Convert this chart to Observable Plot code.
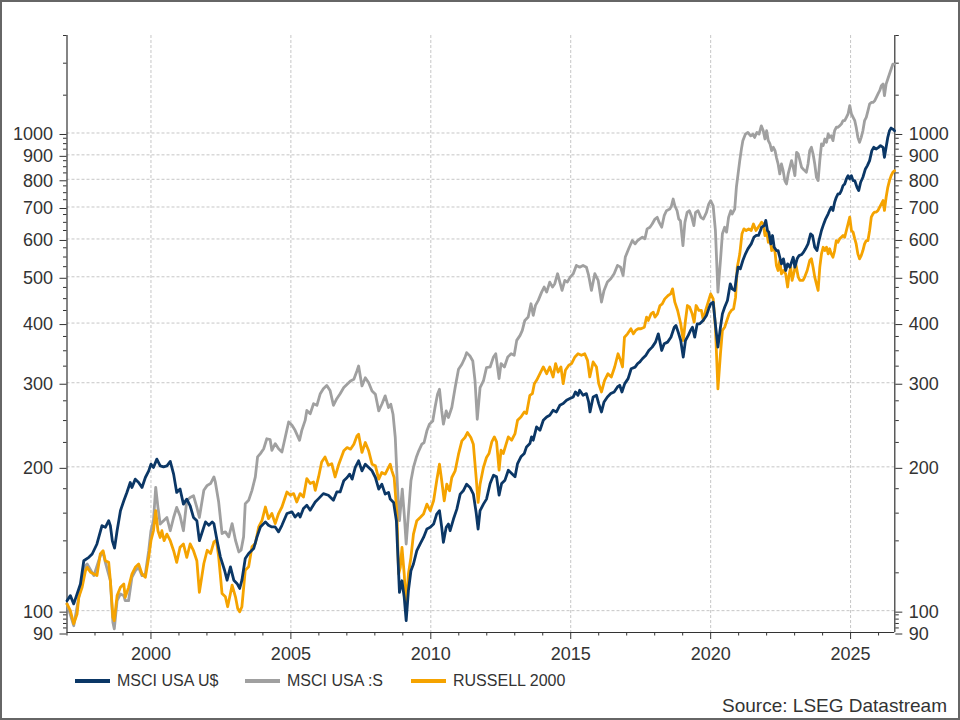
<!DOCTYPE html>
<html>
<head>
<meta charset="utf-8">
<script src="https://cdn.jsdelivr.net/npm/d3@7"></script>
<script src="https://cdn.jsdelivr.net/npm/@observablehq/plot@0.6"></script>
<style>
  html, body { margin: 0; padding: 0; background: #fff; }
  #page { position: relative; width: 960px; height: 720px; overflow: hidden; background: #fff;
          font-family: "Liberation Sans", Arial, sans-serif; color: #333; }
  #chart { position: absolute; left: 0; top: 0; }
  #frame { position: absolute; left: 0; top: 0; width: 960px; height: 720px; box-sizing: border-box;
           border: 2px solid #666; pointer-events: none; }
  .item { position: absolute; top: 670px; height: 22px; display: flex; align-items: center; font-size: 16px; color: #333; white-space: nowrap; }
  .sw { width: 35px; height: 3.5px; margin-right: 7px; }
  #source { position: absolute; right: 13px; top: 695px; font-size: 19px; color: #333; }
</style>
</head>
<body>
<div id="page">
  <div id="chart"></div>
  <div class="item" style="left:75px"><span class="sw" style="background:#0b3766"></span>MSCI USA U$</div>
  <div class="item" style="left:245px"><span class="sw" style="background:#a0a0a0"></span>MSCI USA :S</div>
  <div class="item" style="left:411px"><span class="sw" style="background:#f5a300"></span>RUSSELL 2000</div>
  <div id="source">Source: LSEG Datastream</div>
  <div id="frame"></div>
</div>
<script>
// ---- Data: [decimal year, index value] ----
const msciUsaUsd = [
[1997.00,104.9],[1997.12,107.5],[1997.24,103.3],[1997.36,108.4],[1997.48,113.7],[1997.60,127.2],[1997.78,129.3],[1997.90,131.4],
[1998.07,137.9],[1998.25,150.6],[1998.37,149.4],[1998.49,154.3],[1998.55,150.6],[1998.62,140.0],[1998.70,135.2],[1998.79,147.0],[1998.91,161.9],
[1999.03,169.8],[1999.14,176.8],[1999.26,185.5],[1999.32,181.1],[1999.44,188.5],[1999.56,185.5],[1999.68,181.1],[1999.80,190.0],[1999.92,196.2],
[2000.00,202.6],[2000.09,199.4],[2000.21,207.6],[2000.33,201.0],[2000.45,200.0],[2000.57,201.0],[2000.69,205.3],[2000.81,193.1],[2000.92,176.8],
[2001.04,179.7],[2001.16,167.1],[2001.28,171.2],[2001.40,165.8],[2001.52,156.7],[2001.64,154.3],[2001.73,140.1],[2001.95,153.4],
[2002.07,150.9],[2002.19,153.4],[2002.25,152.1],[2002.36,140.4],[2002.48,129.6],[2002.63,121.5],[2002.72,115.8],[2002.84,123.5],[2002.96,115.8],
[2003.08,113.9],[2003.17,111.3],[2003.25,115.8],[2003.37,128.6],[2003.49,131.7],[2003.67,134.9],[2003.79,142.7],[2003.91,149.7],
[2004.09,153.4],[2004.20,150.9],[2004.32,149.7],[2004.44,149.7],[2004.56,146.2],[2004.68,150.9],[2004.86,159.7],
[2005.04,161.0],[2005.15,157.1],[2005.27,159.7],[2005.33,157.1],[2005.45,163.6],[2005.57,166.2],[2005.69,162.3],[2005.87,168.8],[2005.99,171.6],
[2006.16,175.8],[2006.34,174.4],[2006.52,170.2],[2006.64,177.2],[2006.76,177.2],[2006.89,187.0],
[2007.01,190.0],[2007.10,193.1],[2007.19,188.5],[2007.30,199.4],[2007.42,205.9],[2007.54,196.2],[2007.66,202.6],[2007.78,199.4],[2007.90,196.2],
[2008.02,190.0],[2008.14,179.7],[2008.25,184.0],[2008.37,175.4],[2008.49,176.8],[2008.55,171.2],[2008.67,168.5],[2008.77,154.3],[2008.81,135.7],[2008.88,109.2],[2008.97,115.5],
[2009.05,106.6],[2009.12,95.3],[2009.20,110.1],[2009.29,121.2],[2009.38,125.2],[2009.50,133.5],[2009.62,137.9],[2009.74,142.3],[2009.86,148.2],[2009.98,149.4],
[2010.10,151.8],[2010.21,159.3],[2010.31,161.9],[2010.39,149.4],[2010.45,139.0],[2010.55,149.4],[2010.63,151.8],[2010.69,147.0],[2010.81,155.5],[2010.93,163.1],
[2011.05,175.4],[2011.16,178.2],[2011.28,184.0],[2011.40,181.1],[2011.52,175.4],[2011.62,160.5],[2011.69,148.2],[2011.76,161.9],[2011.88,167.1],[2011.99,171.2],
[2012.12,184.6],[2012.24,192.1],[2012.35,190.6],[2012.44,174.5],[2012.53,184.6],[2012.65,187.6],[2012.77,196.8],[2012.89,193.7],
[2013.01,190.6],[2013.10,203.2],[2013.22,209.9],[2013.34,213.3],[2013.42,220.2],[2013.54,223.8],[2013.60,231.1],[2013.66,227.4],[2013.78,242.5],[2013.90,238.6],
[2014.02,250.4],[2014.14,254.4],[2014.25,256.5],[2014.37,262.7],[2014.49,260.6],[2014.61,269.1],[2014.73,271.3],[2014.85,275.7],[2014.97,278.0],
[2015.09,280.2],[2015.17,287.0],[2015.26,282.4],[2015.32,289.3],[2015.44,282.4],[2015.56,284.7],[2015.64,273.5],[2015.69,260.6],[2015.80,280.2],[2015.92,282.4],
[2016.00,271.3],[2016.10,260.6],[2016.19,273.5],[2016.31,280.2],[2016.43,284.7],[2016.55,287.0],[2016.67,294.0],[2016.75,296.4],[2016.83,287.0],[2016.93,298.7],
[2017.05,306.0],[2017.16,321.0],[2017.30,323.4],[2017.39,328.9],[2017.47,331.6],[2017.56,336.8],[2017.68,342.2],[2017.79,350.5],[2017.91,356.2],
[2018.03,364.9],[2018.13,379.8],[2018.19,364.9],[2018.25,350.5],[2018.34,362.0],[2018.46,364.9],[2018.58,373.7],[2018.70,392.1],[2018.76,395.3],[2018.84,382.9],[2018.93,367.8],
[2019.02,339.4],[2019.10,367.8],[2019.20,376.9],[2019.28,386.0],[2019.35,392.1],[2019.43,373.7],[2019.52,398.6],[2019.61,398.6],[2019.73,405.0],[2019.85,414.9],[2019.93,428.4],
[2020.00,438.8],[2020.09,442.4],[2020.18,392.1],[2020.26,356.2],[2020.35,392.1],[2020.42,418.2],[2020.50,431.8],[2020.60,446.0],[2020.66,468.1],[2020.70,483.2],[2020.77,471.7],[2020.86,468.1],[2020.92,498.8],[2020.98,523.6],
[2021.06,519.4],[2021.15,540.8],[2021.24,557.8],[2021.33,572.0],[2021.45,586.0],[2021.55,605.5],[2021.63,610.4],[2021.71,610.4],[2021.78,624.9],[2021.82,635.0],[2021.92,640.5],[2021.97,656.0],
[2022.03,624.9],[2022.08,619.9],[2022.15,585.9],[2022.21,610.0],[2022.27,576.5],[2022.35,567.4],[2022.41,567.4],[2022.47,549.4],[2022.53,532.1],[2022.60,545.2],[2022.68,515.4],[2022.75,532.1],[2022.83,523.7],[2022.89,536.4],[2022.95,549.4],
[2023.01,523.7],[2023.09,545.2],[2023.16,553.8],[2023.25,556.6],[2023.32,563.1],[2023.39,572.2],[2023.48,585.9],[2023.57,614.9],[2023.64,610.0],[2023.72,576.5],[2023.80,567.4],[2023.87,595.3],[2023.96,624.9],
[2024.04,645.2],[2024.11,661.2],[2024.20,677.5],[2024.25,688.4],[2024.31,699.5],[2024.37,688.4],[2024.43,716.3],[2024.49,733.5],[2024.55,745.4],[2024.61,745.4],[2024.67,757.5],[2024.73,775.9],[2024.79,782.3],[2024.85,801.2],[2024.91,814.2],[2024.97,801.2],
[2025.03,814.2],[2025.09,794.9],[2025.15,794.9],[2025.23,769.7],[2025.29,757.5],[2025.36,788.5],[2025.44,807.8],[2025.53,840.8],[2025.60,854.6],[2025.68,875.2],[2025.76,918.6],[2025.83,933.3],[2025.92,925.9],
[2026.00,933.3],[2026.07,940.9],[2026.16,933.3],[2026.21,889.5],[2026.27,933.3],[2026.33,979.3],[2026.39,1011],[2026.45,1024],[2026.51,1019],[2026.57,1011]
];

const msciUsaSmall = [
[1997.00,103.3],[1997.24,93.0],[1997.42,106.6],[1997.66,124.2],[1997.72,125.2],[1997.96,118.4],
[1998.19,130.3],[1998.29,132.4],[1998.37,126.2],[1998.55,115.5],[1998.64,94.5],[1998.69,91.6],[1998.79,104.9],[1998.91,108.4],
[1999.03,107.5],[1999.08,104.9],[1999.20,104.9],[1999.32,117.4],[1999.44,121.2],[1999.56,123.2],[1999.68,118.4],[1999.80,119.3],[1999.92,133.5],
[2000.00,147.0],[2000.09,154.3],[2000.17,181.1],[2000.25,164.5],[2000.33,151.8],[2000.45,154.3],[2000.57,156.7],[2000.69,147.0],[2000.81,156.7],[2000.92,164.5],
[2001.04,157.9],[2001.16,147.0],[2001.28,169.8],[2001.40,172.6],[2001.52,174.0],[2001.64,164.5],[2001.73,156.7],[2001.89,178.6],
[2002.01,182.9],[2002.13,184.5],[2002.25,190.5],[2002.30,186.0],[2002.42,168.8],[2002.54,145.0],[2002.66,146.2],[2002.78,142.7],[2002.90,152.1],
[2003.02,140.4],[2003.14,132.7],[2003.22,133.8],[2003.31,142.7],[2003.37,167.5],[2003.49,170.2],[2003.61,178.6],[2003.73,190.5],[2003.81,209.8],[2003.91,213.2],
[2004.03,218.3],[2004.14,229.0],[2004.26,228.0],[2004.32,216.6],[2004.44,223.7],[2004.56,218.3],[2004.68,214.9],[2004.80,230.9],[2004.92,248.3],
[2005.04,244.3],[2005.15,238.5],[2005.31,227.3],[2005.39,238.5],[2005.51,250.2],[2005.57,262.5],[2005.69,258.4],[2005.81,271.2],[2005.93,269.1],
[2006.05,284.6],[2006.16,291.5],[2006.28,296.2],[2006.40,289.1],[2006.52,269.1],[2006.64,277.8],[2006.76,284.6],[2006.89,293.1],
[2007.01,297.8],[2007.13,302.6],[2007.25,305.0],[2007.36,317.6],[2007.42,325.3],[2007.54,295.4],[2007.66,307.4],[2007.78,300.1],[2007.90,288.4],
[2008.02,283.8],[2008.14,261.9],[2008.25,270.5],[2008.37,281.6],[2008.49,266.2],[2008.57,270.5],[2008.65,257.8],[2008.73,230.4],[2008.81,181.1],[2008.88,154.3],[2008.98,179.7],
[2009.05,159.3],[2009.12,137.9],[2009.20,159.3],[2009.29,187.0],[2009.38,199.4],[2009.48,209.2],[2009.57,216.1],[2009.68,223.1],[2009.76,224.9],[2009.86,237.9],[2009.95,245.7],
[2010.07,249.6],[2010.15,266.2],[2010.24,283.8],[2010.31,290.8],[2010.39,261.9],[2010.45,245.7],[2010.55,261.9],[2010.63,253.7],[2010.75,266.2],[2010.87,293.1],[2010.99,320.1],
[2011.11,328.0],[2011.22,338.6],[2011.28,346.9],[2011.40,341.3],[2011.50,333.2],[2011.58,302.6],[2011.66,251.6],[2011.76,293.1],[2011.88,302.6],[2011.99,322.7],
[2012.12,323.7],[2012.24,339.7],[2012.32,345.0],[2012.44,306.0],[2012.51,329.0],[2012.63,323.7],[2012.75,339.7],[2012.87,345.0],[2012.98,342.4],
[2013.07,368.0],[2013.19,377.0],[2013.27,386.2],[2013.36,405.2],[2013.48,411.8],[2013.58,439.0],[2013.66,415.2],[2013.74,435.6],[2013.84,446.2],[2013.96,464.4],
[2014.05,475.8],[2014.14,464.4],[2014.25,487.4],[2014.35,475.8],[2014.43,483.6],[2014.53,507.4],[2014.61,487.4],[2014.69,468.2],[2014.79,491.4],[2014.88,487.4],[2014.98,499.2],
[2015.09,507.4],[2015.20,528.2],[2015.32,523.8],[2015.44,528.2],[2015.56,523.8],[2015.64,503.2],[2015.74,468.2],[2015.86,507.4],[2015.98,491.4],
[2016.10,442.6],[2016.19,468.2],[2016.31,487.4],[2016.43,495.2],[2016.55,507.4],[2016.67,528.2],[2016.78,523.8],[2016.87,503.2],[2016.95,549.8],
[2017.07,572.2],[2017.20,595.5],[2017.30,586.0],[2017.39,595.5],[2017.47,600.4],[2017.56,605.5],[2017.65,600.4],[2017.73,630.0],[2017.83,635.0],[2017.91,644.8],
[2018.01,660.5],[2018.09,665.9],[2018.16,649.9],[2018.25,635.0],[2018.34,671.2],[2018.42,687.4],[2018.54,692.9],[2018.60,704.1],[2018.66,727.4],[2018.72,704.1],[2018.80,687.4],[2018.86,660.5],[2018.92,655.1],
[2019.01,581.0],[2019.08,649.9],[2019.16,682.1],[2019.24,687.4],[2019.31,671.2],[2019.40,639.7],[2019.46,682.1],[2019.55,687.4],[2019.65,665.9],[2019.74,660.5],[2019.85,682.1],[2019.93,709.8],
[2020.00,721.6],[2020.09,704.1],[2020.17,624.9],[2020.26,464.2],[2020.35,540.8],[2020.42,615.4],[2020.50,635.0],[2020.57,620.0],[2020.64,665.9],[2020.72,687.4],[2020.77,676.9],[2020.86,692.9],[2020.92,770.2],[2020.98,821.2],
[2021.04,875.4],[2021.10,926.3],[2021.15,963.6],[2021.24,994.5],[2021.33,1002.5],[2021.43,986.6],[2021.51,994.5],[2021.57,978.8],[2021.65,1002.5],[2021.73,994.5],[2021.81,1035.2],[2021.88,1011],[2021.94,971.5],
[2022.00,1011],[2022.06,963.8],[2022.12,948.4],[2022.18,918.6],[2022.24,933.3],[2022.30,918.6],[2022.35,889.5],[2022.41,861.3],[2022.47,820.9],[2022.53,861.3],[2022.59,834.1],[2022.65,794.9],[2022.71,782.3],[2022.77,820.9],[2022.83,847.5],[2022.89,875.2],[2022.95,847.5],
[2023.01,814.2],[2023.07,911.2],[2023.13,903.8],[2023.19,875.2],[2023.25,847.5],[2023.30,840.8],[2023.36,834.1],[2023.42,827.5],[2023.48,861.3],[2023.54,918.6],[2023.60,933.3],[2023.66,903.8],[2023.72,861.3],[2023.78,807.8],[2023.84,794.9],[2023.90,875.2],[2023.96,948.4],
[2024.02,940.9],[2024.08,971.5],[2024.14,956.0],[2024.20,995.2],[2024.25,979.3],[2024.31,987.3],[2024.37,963.8],[2024.43,1011],[2024.49,1028],[2024.55,1028],[2024.61,1036],[2024.67,1044],[2024.73,1061],[2024.79,1061],[2024.85,1078],[2024.91,1096],[2024.97,1141],
[2025.03,1096],[2025.09,1078],[2025.15,1061],[2025.20,1028],[2025.26,979.3],[2025.32,956.0],[2025.38,979.3],[2025.44,1011],[2025.50,1061],[2025.56,1078],[2025.62,1113],[2025.68,1150],[2025.74,1159],[2025.80,1159],[2025.86,1168],[2025.92,1187],[2025.98,1207],
[2026.04,1226],[2026.10,1256],[2026.16,1266],[2026.21,1197],[2026.27,1266],[2026.33,1297],[2026.39,1329],[2026.45,1361],[2026.51,1394],[2026.57,1394]
];

const russell2000 = [
[1997.00,103.3],[1997.12,100.0],[1997.24,93.8],[1997.36,98.4],[1997.42,106.6],[1997.54,111.9],[1997.66,121.2],[1997.72,123.2],[1997.84,120.3],[1997.96,119.3],
[1998.07,118.4],[1998.19,131.4],[1998.29,133.5],[1998.37,127.2],[1998.49,126.2],[1998.55,115.5],[1998.64,96.8],[1998.69,95.3],[1998.79,107.5],[1998.91,111.9],
[1999.03,113.7],[1999.08,106.6],[1999.20,111.9],[1999.32,119.3],[1999.44,123.2],[1999.56,125.2],[1999.68,119.3],[1999.80,117.4],[1999.92,129.3],
[2000.00,140.1],[2000.09,147.0],[2000.17,161.9],[2000.25,147.0],[2000.33,142.3],[2000.39,147.0],[2000.47,140.1],[2000.57,144.6],[2000.69,140.1],[2000.81,133.5],[2000.92,126.2],
[2001.04,135.7],[2001.16,137.9],[2001.28,129.3],[2001.40,137.9],[2001.52,133.5],[2001.64,127.2],[2001.73,109.2],[2001.89,125.5],
[2002.01,133.8],[2002.13,131.7],[2002.25,139.3],[2002.34,140.4],[2002.42,129.6],[2002.54,108.6],[2002.66,106.9],[2002.74,101.9],[2002.84,108.6],[2002.90,113.1],
[2003.02,106.9],[2003.10,101.0],[2003.17,99.4],[2003.25,101.9],[2003.37,121.5],[2003.49,123.5],[2003.61,136.0],[2003.73,138.2],[2003.85,149.7],[2003.97,154.6],
[2004.09,164.8],[2004.20,155.8],[2004.32,159.7],[2004.44,152.1],[2004.56,159.7],[2004.68,164.8],[2004.86,177.2],[2004.98,174.4],
[2005.10,175.8],[2005.21,168.8],[2005.33,175.8],[2005.45,173.0],[2005.57,189.0],[2005.69,184.5],[2005.81,186.0],[2005.87,178.6],[2005.99,190.5],
[2006.10,204.8],[2006.22,209.8],[2006.34,201.5],[2006.46,203.1],[2006.58,190.5],[2006.70,201.5],[2006.89,216.1],
[2007.01,219.5],[2007.13,217.8],[2007.25,223.1],[2007.36,232.2],[2007.42,234.1],[2007.54,214.4],[2007.66,224.9],[2007.78,216.1],[2007.90,202.6],
[2008.02,201.0],[2008.14,188.5],[2008.25,194.7],[2008.37,193.1],[2008.49,199.4],[2008.55,202.6],[2008.61,196.2],[2008.69,190.0],[2008.79,159.3],[2008.85,119.3],[2008.91,123.2],[2008.97,135.7],
[2009.05,119.3],[2009.12,101.6],[2009.20,119.3],[2009.29,129.3],[2009.38,144.6],[2009.50,154.3],[2009.62,156.7],[2009.74,159.3],[2009.86,167.1],[2009.98,161.9],
[2010.10,169.8],[2010.21,187.0],[2010.31,202.6],[2010.39,187.0],[2010.48,169.8],[2010.57,184.0],[2010.67,178.2],[2010.75,190.0],[2010.87,196.2],[2010.99,212.6],
[2011.11,226.7],[2011.22,230.4],[2011.31,236.0],[2011.43,230.4],[2011.52,223.1],[2011.62,190.0],[2011.69,168.5],[2011.76,184.0],[2011.88,199.4],[2011.99,209.2],
[2012.08,213.3],[2012.18,225.6],[2012.27,231.1],[2012.35,225.6],[2012.44,196.8],[2012.51,216.7],[2012.59,213.3],[2012.68,222.0],[2012.77,231.1],[2012.89,227.4],
[2013.01,234.8],[2013.10,250.4],[2013.22,254.4],[2013.34,260.6],[2013.42,258.6],[2013.54,282.4],[2013.63,284.7],[2013.70,298.7],[2013.78,303.6],[2013.90,313.4],
[2014.02,323.7],[2014.14,313.4],[2014.25,323.7],[2014.37,308.5],[2014.46,329.0],[2014.55,315.8],[2014.65,323.7],[2014.73,298.7],[2014.81,318.5],[2014.93,326.3],
[2015.03,329.0],[2015.15,339.7],[2015.26,345.0],[2015.38,342.4],[2015.50,345.0],[2015.60,334.2],[2015.68,308.5],[2015.80,331.6],[2015.92,323.7],
[2016.00,298.7],[2016.10,287.0],[2016.21,303.6],[2016.33,313.4],[2016.45,308.5],[2016.57,323.7],[2016.69,345.0],[2016.78,334.2],[2016.85,323.7],[2016.92,373.7],
[2017.03,379.8],[2017.15,389.2],[2017.24,379.8],[2017.32,386.0],[2017.41,389.2],[2017.51,389.2],[2017.63,392.1],[2017.71,411.6],[2017.77,405.0],[2017.87,418.2],[2017.95,421.7],
[2018.01,411.6],[2018.10,418.2],[2018.19,435.3],[2018.27,438.8],[2018.36,449.5],[2018.48,456.8],[2018.57,460.4],[2018.64,471.7],[2018.72,442.4],[2018.82,425.1],[2018.93,398.6],
[2019.02,367.8],[2019.10,405.0],[2019.17,435.3],[2019.25,431.8],[2019.34,418.2],[2019.41,401.8],[2019.48,435.3],[2019.58,425.1],[2019.67,425.1],[2019.74,405.0],[2019.82,425.1],[2019.91,442.4],
[2020.00,460.4],[2020.09,449.5],[2020.17,392.1],[2020.26,291.3],[2020.35,344.9],[2020.42,386.0],[2020.50,392.1],[2020.58,405.0],[2020.66,418.2],[2020.74,425.1],[2020.82,428.4],[2020.89,453.2],[2020.95,523.6],
[2021.04,557.8],[2021.12,615.4],[2021.19,630.0],[2021.27,624.9],[2021.36,630.0],[2021.45,624.9],[2021.53,644.8],[2021.62,624.9],[2021.70,635.0],[2021.78,644.8],[2021.82,650.6],[2021.88,645.2],[2021.94,610.0],
[2022.00,624.9],[2022.06,590.6],[2022.12,605.2],[2022.18,567.4],[2022.24,576.5],[2022.30,563.1],[2022.35,528.0],[2022.41,515.4],[2022.47,540.8],[2022.53,507.2],[2022.60,515.4],[2022.68,507.2],[2022.75,476.0],[2022.79,499.2],[2022.86,523.7],[2022.91,491.2],[2022.98,511.3],
[2023.04,532.1],[2023.13,499.2],[2023.19,491.2],[2023.25,491.2],[2023.30,491.2],[2023.36,499.2],[2023.45,515.4],[2023.54,540.8],[2023.60,545.2],[2023.66,523.7],[2023.72,499.2],[2023.78,483.4],[2023.84,468.0],[2023.90,523.7],[2023.96,558.4],
[2024.02,576.5],[2024.08,567.4],[2024.14,576.5],[2024.20,558.4],[2024.25,572.2],[2024.31,558.4],[2024.37,549.4],[2024.43,567.4],[2024.49,595.3],[2024.55,590.6],[2024.61,600.3],[2024.67,605.2],[2024.73,610.0],[2024.79,605.2],[2024.85,624.9],[2024.91,645.2],[2024.97,666.7],
[2025.03,624.9],[2025.09,619.9],[2025.15,600.3],[2025.20,585.9],[2025.26,558.4],[2025.32,545.2],[2025.38,553.8],[2025.44,567.4],[2025.50,585.9],[2025.56,595.3],[2025.62,595.3],[2025.68,624.9],[2025.74,666.7],[2025.80,677.5],[2025.86,682.9],[2025.92,682.9],[2025.98,688.4],
[2026.04,699.5],[2026.10,710.7],[2026.16,722.0],[2026.21,688.4],[2026.27,733.5],[2026.33,769.7],[2026.39,794.9],[2026.45,814.2],[2026.51,827.5],[2026.57,834.1]
];

// ---- Axis ticks ----
const yLabelTicks = [90, 100, 200, 300, 400, 500, 600, 700, 800, 900, 1000];
const yGridTicks = [100, 200, 300, 400, 500, 600, 700, 800, 900, 1000];
const yMinorTicks = [92, 94, 96, 98, 120, 140, 160, 180,
  225, 250, 275, 325, 350, 375, 425, 450, 475, 525, 550, 575,
  625, 650, 675, 725, 750, 775, 825, 850, 875, 925, 950, 975, 1200, 1400, 1600];
const xLabelTicks = [2000, 2005, 2010, 2015, 2020, 2025];
const xMinorTicks = d3.range(1997, 2027).filter(y => y % 5 !== 0);
const xDomain = [1997, 2026.58];
const yDomain = [90, 1600];

const toRows = arr => arr.map(([year, value]) => ({year, value}));

const chart = Plot.plot({
  width: 960,
  height: 668,
  marginTop: 35,
  marginLeft: 66.5,
  marginRight: 65.7,
  marginBottom: 36,
  style: {fontFamily: "'Liberation Sans', Arial, sans-serif", fontSize: "18px", color: "#333", background: "transparent", overflow: "visible"},
  x: {type: "linear", domain: xDomain, label: null},
  y: {type: "log", domain: yDomain, label: null},
  marks: [
    Plot.ruleY(yGridTicks, {stroke: "#c6c6c6", strokeDasharray: "3,2", strokeWidth: 1}),
    Plot.ruleX(xLabelTicks, {stroke: "#c6c6c6", strokeDasharray: "3,2", strokeWidth: 1}),
    Plot.axisY({anchor: "left", ticks: yMinorTicks, tickSize: 3.5, tickFormat: () => "", label: null}),
    Plot.axisY({anchor: "right", ticks: yMinorTicks, tickSize: 3.5, tickFormat: () => "", label: null}),
    Plot.axisY({anchor: "left", ticks: yLabelTicks, tickSize: 7, tickPadding: 7, tickFormat: d => String(d), label: null, dy: 1.5}),
    Plot.axisY({anchor: "right", ticks: yLabelTicks, tickSize: 7, tickPadding: 7, tickFormat: d => String(d), label: null, dy: 1.5}),
    Plot.axisX({ticks: xMinorTicks, tickSize: 3.5, tickFormat: () => "", label: null}),
    Plot.axisX({ticks: xLabelTicks, tickSize: 7, tickPadding: 8, tickFormat: d => String(d), label: null}),
    Plot.ruleX(xDomain, {stroke: "#333", strokeWidth: 1.2}),
    Plot.ruleY([yDomain[0]], {stroke: "#333", strokeWidth: 1.2}),
    Plot.line(toRows(msciUsaSmall), {x: "year", y: "value", stroke: "#a0a0a0", strokeWidth: 2.8, strokeLinejoin: "round"}),
    Plot.line(toRows(russell2000), {x: "year", y: "value", stroke: "#f5a300", strokeWidth: 2.8, strokeLinejoin: "round"}),
    Plot.line(toRows(msciUsaUsd), {x: "year", y: "value", stroke: "#0b3766", strokeWidth: 2.8, strokeLinejoin: "round"})
  ]
});
document.getElementById("chart").appendChild(chart);
</script>
</body>
</html>
